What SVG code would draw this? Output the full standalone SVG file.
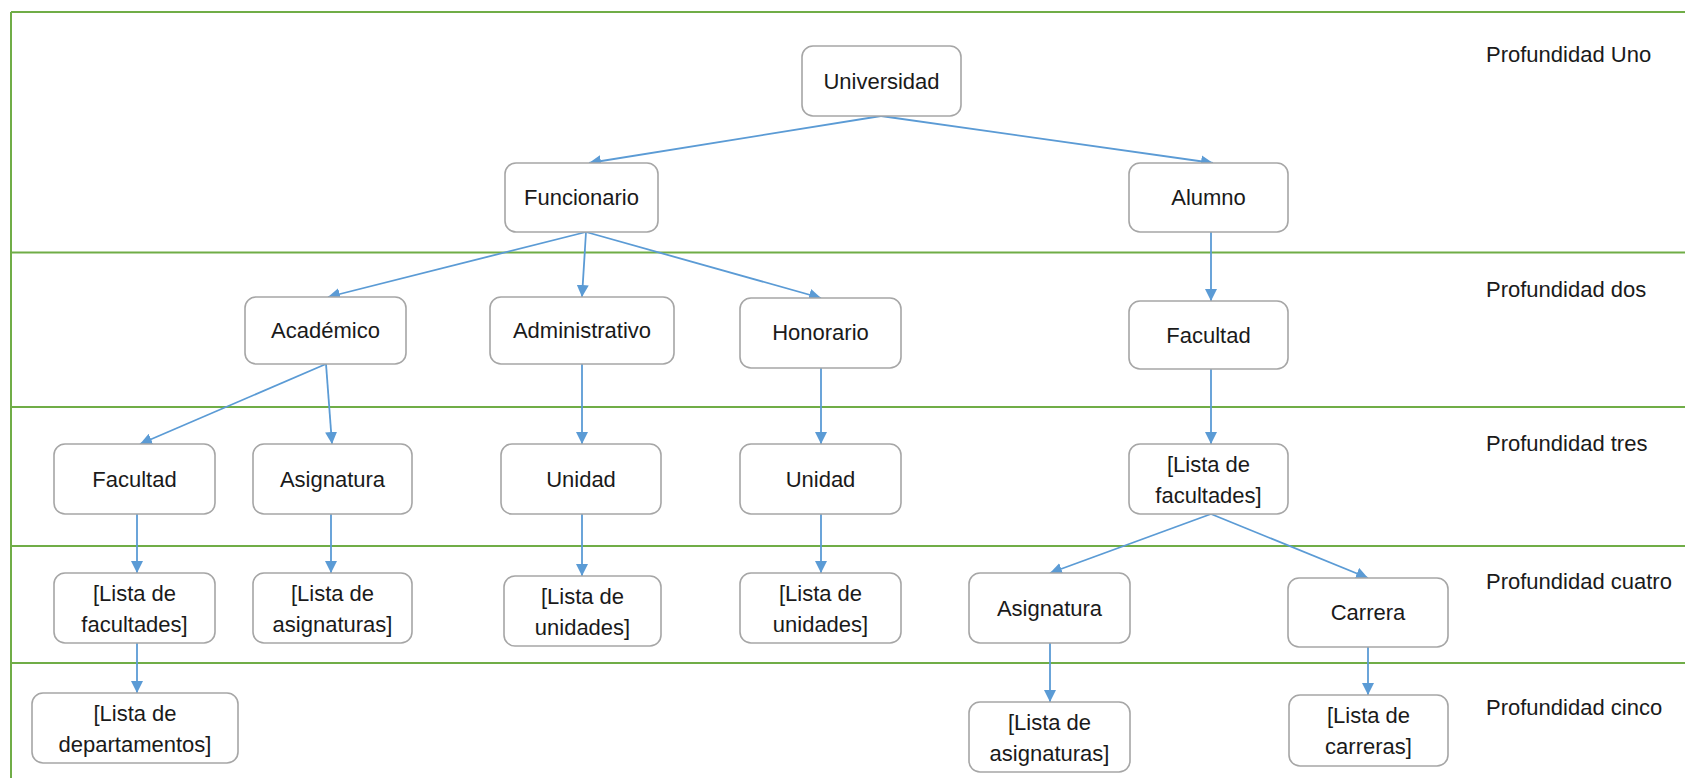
<svg xmlns="http://www.w3.org/2000/svg" width="1685" height="778" viewBox="0 0 1685 778">
<style>
.band{stroke:#70AD47;stroke-width:2;fill:none}
.box{fill:#fff;stroke:#A6A6A6;stroke-width:1.6}
.t{font-family:"Liberation Sans",Arial,sans-serif;font-size:22px;fill:#1a1a1a;text-anchor:middle}
.lbl{font-family:"Liberation Sans",Arial,sans-serif;font-size:22px;fill:#1a1a1a}
.c{stroke:#5B9BD5;stroke-width:1.8;fill:none;marker-end:url(#ah)}
</style>
<defs>
<marker id="ah" markerUnits="userSpaceOnUse" markerWidth="14" markerHeight="12" refX="12" refY="6" orient="auto">
<path d="M0,0 L12,6 L0,12 Z" fill="#5B9BD5"/>
</marker>
</defs>
<rect width="1685" height="778" fill="#fff"/>
<g id="bands">
<line class="band" x1="11" y1="12" x2="1685" y2="12"/>
<line class="band" x1="11" y1="12" x2="11" y2="778"/>
<line class="band" x1="11" y1="252.5" x2="1685" y2="252.5"/>
<line class="band" x1="11" y1="407" x2="1685" y2="407"/>
<line class="band" x1="11" y1="546" x2="1685" y2="546"/>
<line class="band" x1="11" y1="663" x2="1685" y2="663"/>
</g>
<g id="labels">
<text class="lbl" x="1486" y="62">Profundidad Uno</text>
<text class="lbl" x="1486" y="297">Profundidad dos</text>
<text class="lbl" x="1486" y="451">Profundidad tres</text>
<text class="lbl" x="1486" y="589">Profundidad cuatro</text>
<text class="lbl" x="1486" y="715">Profundidad cinco</text>
</g>
<g id="connectors">
<line class="c" x1="881" y1="116" x2="589" y2="163"/>
<line class="c" x1="881" y1="116" x2="1213" y2="163"/>
<line class="c" x1="586" y1="232" x2="328" y2="297"/>
<line class="c" x1="586" y1="232" x2="582" y2="297"/>
<line class="c" x1="586" y1="232" x2="821" y2="298"/>
<line class="c" x1="1211" y1="232" x2="1211" y2="301"/>
<line class="c" x1="326" y1="364" x2="140" y2="444"/>
<line class="c" x1="326" y1="364" x2="332" y2="444"/>
<line class="c" x1="582" y1="364" x2="582" y2="444"/>
<line class="c" x1="821" y1="368" x2="821" y2="444"/>
<line class="c" x1="1211" y1="369" x2="1211" y2="444"/>
<line class="c" x1="137" y1="514" x2="137" y2="573"/>
<line class="c" x1="331" y1="514" x2="331" y2="573"/>
<line class="c" x1="582" y1="514" x2="582" y2="576"/>
<line class="c" x1="821" y1="514" x2="821" y2="573"/>
<line class="c" x1="1211" y1="514" x2="1050" y2="573"/>
<line class="c" x1="1211" y1="514" x2="1368" y2="578"/>
<line class="c" x1="137" y1="643" x2="137" y2="693"/>
<line class="c" x1="1050" y1="643" x2="1050" y2="702"/>
<line class="c" x1="1368" y1="647" x2="1368" y2="695"/>
</g>
<g id="universidad"><rect class="box" x="802" y="46" width="159" height="70" rx="11"/><text class="t" x="881.5" y="89">Universidad</text></g>
<g id="funcionario"><rect class="box" x="505" y="163" width="153" height="69" rx="11"/><text class="t" x="581.5" y="205">Funcionario</text></g>
<g id="alumno"><rect class="box" x="1129" y="163" width="159" height="69" rx="11"/><text class="t" x="1208.5" y="205">Alumno</text></g>
<g id="academico"><rect class="box" x="245" y="297" width="161" height="67" rx="11"/><text class="t" x="325.5" y="338">Académico</text></g>
<g id="administrativo"><rect class="box" x="490" y="297" width="184" height="67" rx="11"/><text class="t" x="582" y="338">Administrativo</text></g>
<g id="honorario"><rect class="box" x="740" y="298" width="161" height="70" rx="11"/><text class="t" x="820.5" y="340">Honorario</text></g>
<g id="facultad-alumno"><rect class="box" x="1129" y="301" width="159" height="68" rx="11"/><text class="t" x="1208.5" y="343">Facultad</text></g>
<g id="facultad-academico"><rect class="box" x="54" y="444" width="161" height="70" rx="11"/><text class="t" x="134.5" y="487">Facultad</text></g>
<g id="asignatura-academico"><rect class="box" x="253" y="444" width="159" height="70" rx="11"/><text class="t" x="332.5" y="487">Asignatura</text></g>
<g id="unidad-administrativo"><rect class="box" x="501" y="444" width="160" height="70" rx="11"/><text class="t" x="581" y="487">Unidad</text></g>
<g id="unidad-honorario"><rect class="box" x="740" y="444" width="161" height="70" rx="11"/><text class="t" x="820.5" y="487">Unidad</text></g>
<g id="lista-facultades-alumno"><rect class="box" x="1129" y="444" width="159" height="70" rx="11"/><text class="t" x="1208.5" y="472">[Lista de</text><text class="t" x="1208.5" y="503">facultades]</text></g>
<g id="lista-facultades-academico"><rect class="box" x="54" y="573" width="161" height="70" rx="11"/><text class="t" x="134.5" y="601">[Lista de</text><text class="t" x="134.5" y="632">facultades]</text></g>
<g id="lista-asignaturas-academico"><rect class="box" x="253" y="573" width="159" height="70" rx="11"/><text class="t" x="332.5" y="601">[Lista de</text><text class="t" x="332.5" y="632">asignaturas]</text></g>
<g id="lista-unidades-administrativo"><rect class="box" x="504" y="576" width="157" height="70" rx="11"/><text class="t" x="582.5" y="604">[Lista de</text><text class="t" x="582.5" y="635">unidades]</text></g>
<g id="lista-unidades-honorario"><rect class="box" x="740" y="573" width="161" height="70" rx="11"/><text class="t" x="820.5" y="601">[Lista de</text><text class="t" x="820.5" y="632">unidades]</text></g>
<g id="asignatura-alumno"><rect class="box" x="969" y="573" width="161" height="70" rx="11"/><text class="t" x="1049.5" y="616">Asignatura</text></g>
<g id="carrera"><rect class="box" x="1288" y="578" width="160" height="69" rx="11"/><text class="t" x="1368" y="620">Carrera</text></g>
<g id="lista-departamentos"><rect class="box" x="32" y="693" width="206" height="70" rx="11"/><text class="t" x="135" y="721">[Lista de</text><text class="t" x="135" y="752">departamentos]</text></g>
<g id="lista-asignaturas-alumno"><rect class="box" x="969" y="702" width="161" height="70" rx="11"/><text class="t" x="1049.5" y="730">[Lista de</text><text class="t" x="1049.5" y="761">asignaturas]</text></g>
<g id="lista-carreras"><rect class="box" x="1289" y="695" width="159" height="71" rx="11"/><text class="t" x="1368.5" y="723">[Lista de</text><text class="t" x="1368.5" y="754">carreras]</text></g>
</svg>
